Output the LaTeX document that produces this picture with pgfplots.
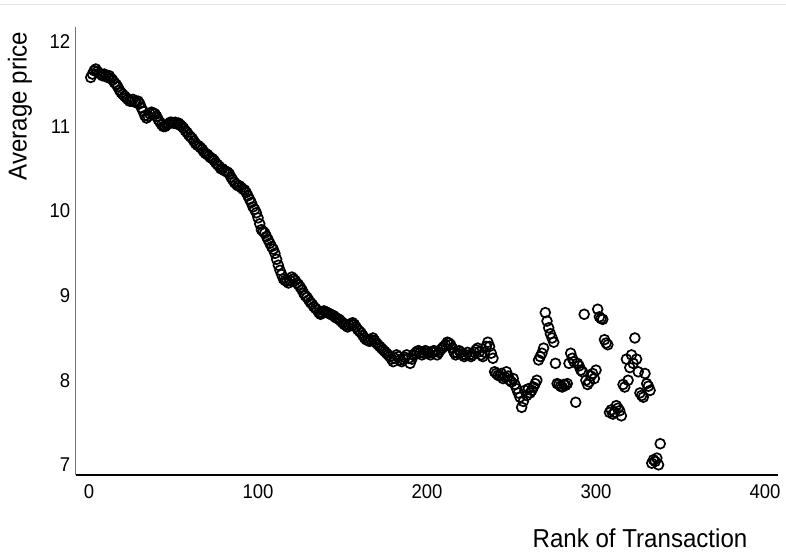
\documentclass[border=0pt]{standalone}
\usepackage{pgfplots}
\pgfplotsset{compat=1.18}
\usepackage{fontspec}
\setmainfont{Liberation Sans}[FakeStretch=0.93]
\begin{document}
\begin{tikzpicture}
\pgfresetboundingbox
\path[use as bounding box] (-75.7bp,-78bp) rectangle (710.3bp,475bp);
\draw[black!10, line width=1bp] (-75.7bp,470bp) -- (710.3bp,470bp);
\begin{axis}[
  at={(0,0)}, anchor=south west,
  scale only axis, width=702.3bp, height=448.3bp,
  xmin=-7.9, xmax=407.7, ymin=6.88, ymax=12.18,
  axis x line*=bottom, axis y line*=left,
  x axis line style={-, black, line width=1.2bp},
  y axis line style={-, black!55, line width=0.9bp},
  xtick={0,100,200,300,400}, ytick={7,8,9,10,11,12},
  major tick length=0pt, minor tick num=0,
  /pgf/number format/assume math mode=true,
  tick label style={font=\fontsize{20}{22}\selectfont, black},
  xticklabel style={yshift=-6bp},
  yticklabel style={xshift=-2bp},
  xlabel={Rank of Transaction}, ylabel={Average price},
  label style={font=\fontsize{26}{28}\selectfont},
  xlabel style={at={(axis description cs:0.8035,-0.1405)}, anchor=center},
  ylabel style={at={(axis description cs:-0.0793,0.823)}, anchor=center},
  clip=false,
]
\addplot[only marks, mark=o, mark size=4.9bp, mark options={line width=1.7bp, black}] coordinates {
(1,11.58) (2,11.62) (3,11.66) (4,11.68) (5,11.65) (6,11.63) (7,11.62) (8,11.60) (9,11.62) (10,11.60)
(11,11.58) (12,11.60) (13,11.57) (14,11.55) (15,11.52) (16,11.50) (17,11.47) (18,11.43) (19,11.40) (20,11.38)
(21,11.36) (22,11.34) (23,11.32) (24,11.30) (25,11.30) (26,11.32) (27,11.30) (28,11.28) (29,11.30) (30,11.27)
(31,11.22) (32,11.18) (33,11.13) (34,11.10) (35,11.12) (36,11.15) (37,11.17) (38,11.16) (39,11.15) (40,11.12)
(41,11.08) (42,11.05) (43,11.02) (44,11.00) (45,11.00) (46,11.02) (47,11.03) (48,11.05) (49,11.05) (50,11.04)
(51,11.05) (52,11.03) (53,11.04) (54,11.02) (55,11.00) (56,10.98) (57,10.95) (58,10.93) (59,10.90) (60,10.88)
(61,10.86) (62,10.83) (63,10.80) (64,10.78) (65,10.77) (66,10.75) (67,10.73) (68,10.70) (69,10.68) (70,10.67)
(71,10.65) (72,10.63) (73,10.62) (74,10.60) (75,10.57) (76,10.55) (77,10.53) (78,10.50) (79,10.50) (80,10.48)
(81,10.47) (82,10.46) (83,10.44) (84,10.40) (85,10.37) (86,10.34) (87,10.32) (88,10.30) (89,10.30) (90,10.28)
(91,10.26) (92,10.25) (93,10.22) (94,10.18) (95,10.14) (96,10.10) (97,10.05) (98,10.02) (99,9.98) (100,9.92)
(101,9.85) (102,9.78) (103,9.76) (104,9.74) (105,9.70) (106,9.66) (107,9.62) (108,9.58) (109,9.55) (110,9.50)
(111,9.43) (112,9.36) (113,9.30) (114,9.25) (115,9.20) (116,9.18) (117,9.17) (118,9.15) (119,9.18) (120,9.22)
(121,9.20) (122,9.18) (123,9.15) (124,9.13) (125,9.10) (126,9.07) (127,9.03) (128,9.00) (129,8.98) (130,8.95)
(131,8.92) (132,8.90) (133,8.87) (134,8.85) (135,8.83) (136,8.80) (137,8.78) (138,8.80) (139,8.82) (140,8.81)
(141,8.80) (142,8.79) (143,8.78) (144,8.77) (145,8.76) (146,8.74) (147,8.73) (148,8.72) (149,8.70) (150,8.68)
(151,8.66) (152,8.65) (153,8.63) (154,8.65) (155,8.67) (156,8.68) (157,8.66) (158,8.63) (159,8.60) (160,8.58)
(161,8.56) (162,8.53) (163,8.50) (164,8.48) (165,8.47) (166,8.46) (167,8.48) (168,8.50) (169,8.47) (170,8.44)
(171,8.42) (172,8.40) (173,8.38) (174,8.36) (175,8.34) (176,8.32) (177,8.30) (178,8.28) (179,8.25) (180,8.22)
(181,8.26) (182,8.30) (183,8.28) (184,8.24) (185,8.22) (186,8.25) (187,8.27) (188,8.30) (189,8.26) (190,8.20)
(191,8.25) (192,8.30) (193,8.32) (194,8.34) (195,8.35) (196,8.33) (197,8.30) (198,8.32) (199,8.35) (200,8.34)
(201,8.32) (202,8.30) (203,8.33) (204,8.35) (205,8.34) (206,8.30) (207,8.33) (208,8.36) (209,8.38) (210,8.40)
(211,8.42) (212,8.45) (213,8.44) (214,8.42) (215,8.38) (216,8.33) (217,8.30) (218,8.32) (219,8.35) (220,8.33)
(221,8.30) (222,8.28) (223,8.30) (224,8.33) (225,8.30) (226,8.28) (227,8.30) (228,8.33) (229,8.36) (230,8.38)
(231,8.34) (232,8.30) (233,8.28) (234,8.33) (235,8.40) (236,8.45) (237,8.40) (238,8.32) (239,8.26) (240,8.10)
(241,8.08) (242,8.06) (243,8.05) (244,8.08) (245,8.02) (246,8.04) (247,8.10) (248,8.05) (249,8.00) (250,7.98)
(251,8.02) (252,7.95) (253,7.90) (254,7.85) (255,7.80) (256,7.68) (257,7.75) (258,7.88) (259,7.82) (260,7.90)
(261,7.85) (262,7.88) (263,7.92) (264,7.96) (265,8.00) (266,8.24) (267,8.28) (268,8.32) (269,8.38) (270,8.80)
(271,8.70) (272,8.62) (273,8.55) (274,8.50) (275,8.45) (276,8.20) (277,7.96) (278,7.95) (279,7.93) (280,7.92)
(281,7.95) (282,7.94) (283,7.96) (284,8.20) (285,8.32) (286,8.26) (287,8.22) (288,7.74) (289,8.20) (290,8.17)
(291,8.12) (292,8.10) (293,8.78) (294,8.00) (295,7.95) (296,7.98) (297,8.05) (298,8.08) (299,8.02) (300,8.12)
(301,8.84) (302,8.75) (303,8.73) (304,8.72) (305,8.48) (306,8.44) (307,8.42) (308,7.62) (309,7.65) (310,7.60)
(311,7.62) (312,7.70) (313,7.67) (314,7.64) (315,7.58) (316,7.95) (317,7.92) (318,8.25) (319,8.00) (320,8.15)
(321,8.30) (322,8.20) (323,8.50) (324,8.25) (325,8.10) (326,7.85) (327,7.82) (328,7.80) (329,8.08) (330,7.96)
(331,7.93) (332,7.88) (333,7.02) (334,7.06) (335,7.04) (336,7.08) (337,7.00) (338,7.25)
};
\end{axis}
\end{tikzpicture}
\end{document}
